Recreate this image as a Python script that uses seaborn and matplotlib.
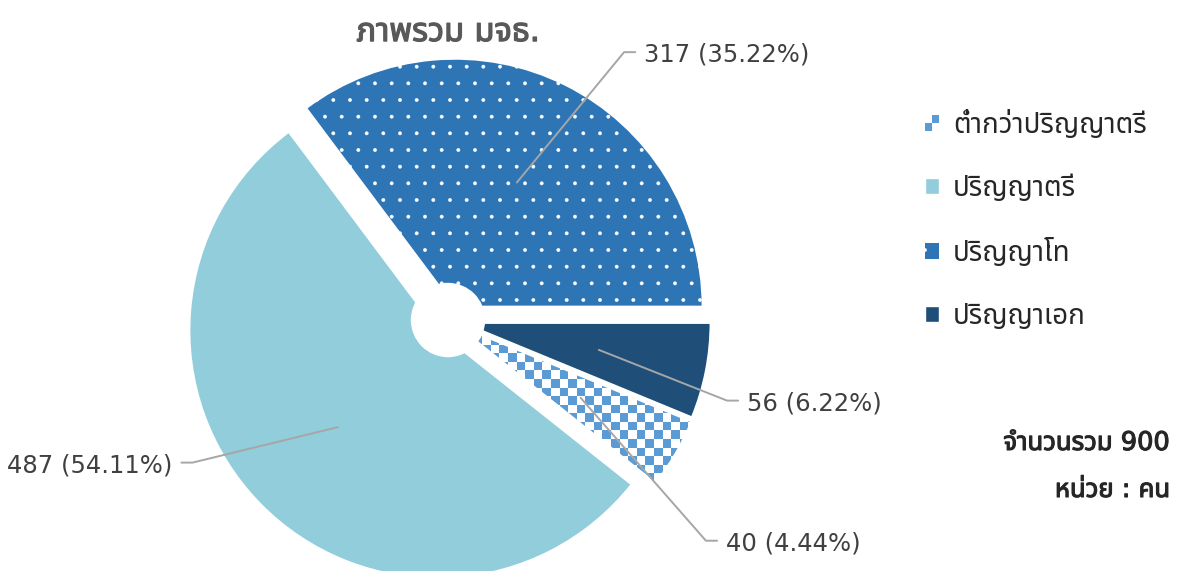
import numpy as np
import matplotlib
matplotlib.use('Agg')
import matplotlib.pyplot as plt
import matplotlib.patheffects as pe
import seaborn as sns
from matplotlib import font_manager
from matplotlib.ft2font import FT2Font
from matplotlib.patches import Patch, Rectangle, Circle
from matplotlib.colors import ListedColormap
from matplotlib.legend_handler import HandlerBase

# data
categories = ['ต่ำกว่าปริญญาตรี', 'ปริญญาตรี', 'ปริญญาโท', 'ปริญญาเอก']
counts = [40, 487, 317, 56]
chart_title = 'ภาพรวม มจธ.'
total_text = 'จำนวนรวม 900'
unit_text = 'หน่วย : คน'

colors = ['#5b9bd5', '#92cddc', '#2e75b6', '#1f4e79']


def find_thai_font():
    """Return the name of an installed family that has Thai glyphs, or None."""
    preferred = ['Noto Sans Thai', 'Noto Sans Thai UI', 'Noto Looped Thai', 'Loma', 'Garuda', 'Tlwg Typo']
    found = {}
    for f in font_manager.fontManager.ttflist:
        try:
            if FT2Font(f.fname).get_char_index(ord('ก')):
                found.setdefault(f.name, f.fname)
        except Exception:
            continue
    for name in preferred:
        if name in found:
            return name
    return next(iter(found), None)


class CheckerHandler(HandlerBase):
    # small checkerboard square for the legend
    def create_artists(self, legend, orig_handle, xdescent, ydescent, width, height, fontsize, trans):
        arts = []
        w, h = width / 2, height / 2
        for i in range(2):
            for j in range(2):
                c = orig_handle.get_facecolor() if (i + j) % 2 == 0 else 'white'
                arts.append(Rectangle((-xdescent + i * w, -ydescent + j * h), w, h,
                                      facecolor=c, edgecolor='none', transform=trans))
        return arts


def bold(color, width=0.8):
    # thicken glyphs with a stroke, the Thai family has no bold face here
    return [pe.withStroke(linewidth=width, foreground=color)]


sns.set_theme(style='white')
thai = find_thai_font()
plt.rcParams['font.family'] = ['DejaVu Sans', thai] if thai else ['DejaVu Sans']
plt.rcParams['hatch.linewidth'] = 0.3

fig = plt.figure(figsize=(11.77, 5.71), dpi=100)
ax = fig.add_axes([0, 0, 1, 1])

# dark blue slice ends at 3 o'clock, slices run clockwise in legend order
start = -360 * counts[-1] / sum(counts)
wedges, _ = ax.pie(counts, colors=colors, startangle=start, counterclock=False,
                   explode=[0.06] * len(counts),
                   wedgeprops=dict(edgecolor='white', linewidth=1.5))
wedges[2].set_hatch('.')

# checkerboard fill for the first slice
cell = 0.0345
checker = np.indices((26, 36)).sum(axis=0) % 2
im = ax.imshow(checker, cmap=ListedColormap(['white', colors[0]]), interpolation='nearest',
               extent=(0.0, 36 * cell, -26 * cell, 0.0), zorder=1.5)
im.set_clip_path(wedges[0])

# white hole in the middle
ax.add_patch(Circle((0, 0), 0.15, facecolor='white', edgecolor='none', zorder=3))

# leader lines and value labels
label_elbows = [(1.04, -0.89), (-1.03, -0.575), (0.71, 1.08), (1.125, -0.325)]
label_side = [1, -1, 1, 1]
total = sum(counts)
for w, n, (ex, ey), side in zip(wedges, counts, label_elbows, label_side):
    mid = np.deg2rad((w.theta1 + w.theta2) / 2)
    px, py = 0.62 * np.cos(mid), 0.62 * np.sin(mid)
    hx = ex + side * 0.045
    ax.plot([px, ex, hx], [py, ey, ey], color='#a6a6a6', lw=1.4, zorder=4)
    ax.text(hx + side * 0.035, ey - 0.01, f'{n} ({n / total * 100:.2f}%)',
            ha='left' if side > 0 else 'right', va='center', fontsize=17.5, color='#404040', zorder=5)

ax.text(0, 1.163, chart_title, ha='center', va='center', fontsize=23.5, color='#595959',
        path_effects=bold('#595959', 0.9))

ax.set_xlim(-448 / 248, (1177 - 448) / 248)
ax.set_ylim(-(571 - 320) / 248, 320 / 248)
ax.set_aspect('auto')
ax.axis('off')

handles = [Patch(facecolor=colors[0]),
           Patch(facecolor=colors[1]),
           Patch(facecolor=colors[2], edgecolor='white', hatch='.', linewidth=0),
           Patch(facecolor=colors[3])]
fig.legend(handles, categories, loc='upper left', bbox_to_anchor=(925 / 1177, 1 - 110 / 571),
           frameon=False, fontsize=20, handlelength=0.5, handleheight=0.5, handletextpad=0.5,
           labelspacing=1.27, borderpad=0, borderaxespad=0, labelcolor='#262626',
           handler_map={handles[0]: CheckerHandler()})

fig.text(1170 / 1177, 1 - 443 / 571, total_text, ha='right', va='center', fontsize=18.5,
         color='#262626', path_effects=bold('#262626'))
fig.text(1170 / 1177, 1 - 490 / 571, unit_text, ha='right', va='center', fontsize=18.5,
         color='#262626', path_effects=bold('#262626'))

fig.savefig('out.png', dpi=100)
